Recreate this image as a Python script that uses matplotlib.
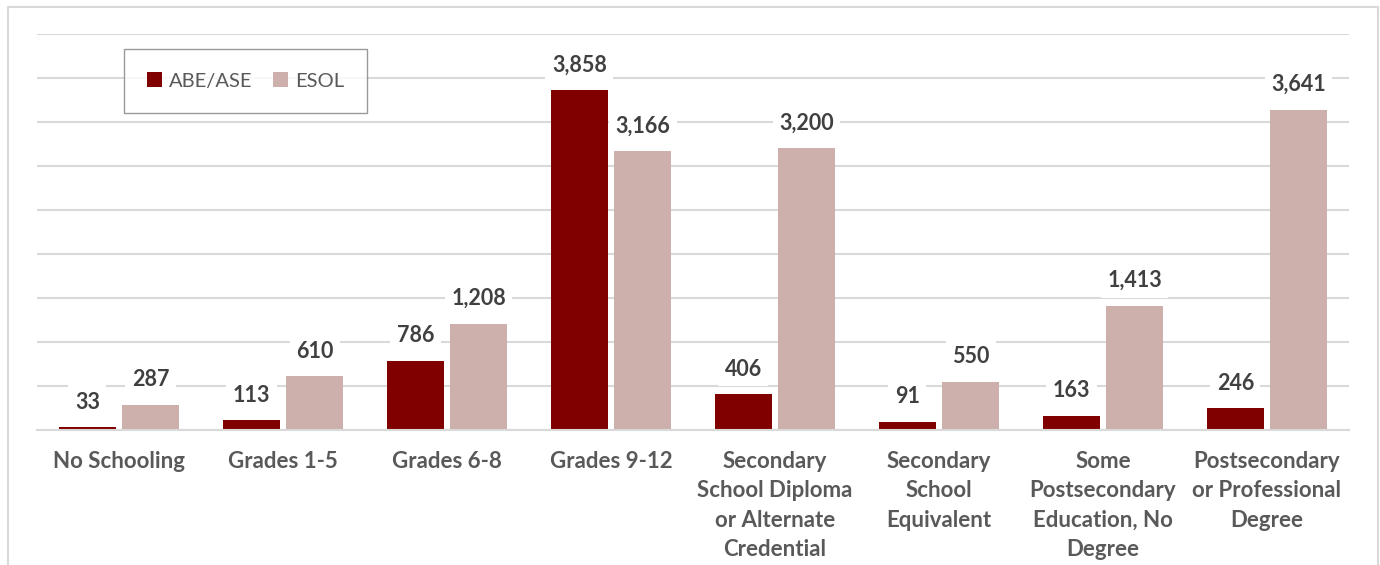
import matplotlib
matplotlib.use("Agg")
import matplotlib.pyplot as plt
import numpy as np
from matplotlib.patches import Rectangle

categories = [
    "No Schooling",
    "Grades 1-5",
    "Grades 6-8",
    "Grades 9-12",
    "Secondary\nSchool Diploma\nor Alternate\nCredential",
    "Secondary\nSchool\nEquivalent",
    "Some\nPostsecondary\nEducation, No\nDegree",
    "Postsecondary\nor Professional\nDegree",
]
abe_ase = [33, 113, 786, 3858, 406, 91, 163, 246]
esol = [287, 610, 1208, 3166, 3200, 550, 1413, 3641]

DARK_RED = "#800000"
PINK = "#CDAFAB"
GRID = "#D9D9D9"
TEXT = "#595959"

plt.rcParams["font.family"] = ["Lato", "DejaVu Sans"]

fig = plt.figure(figsize=(13.8, 5.65), dpi=100)
ax = fig.add_axes([37 / 1380, 135 / 565, 1312 / 1380, 396 / 565])

x = np.arange(len(categories))
w = 0.35
off = 0.193
b1 = ax.bar(x - off, abe_ase, w, color=DARK_RED, label="ABE/ASE", zorder=2)
b2 = ax.bar(x + off, esol, w, color=PINK, label="ESOL", zorder=2)

for bars, vals in ((b1, abe_ase), (b2, esol)):
    for bar, v in zip(bars, vals):
        ax.annotate(f"{v:,}", (bar.get_x() + bar.get_width() / 2, v),
                    xytext=(0, 18), textcoords="offset points",
                    ha="center", va="center", fontsize=15.5, fontweight="bold",
                    color="#404040", zorder=4,
                    bbox=dict(boxstyle="square,pad=0.3", fc="white", ec="none"))

ax.set_xlim(-0.5, len(categories) - 0.5)
ax.set_ylim(0, 4500)
ax.set_yticks(np.arange(0, 4501, 500))
ax.yaxis.grid(True, color=GRID, lw=1.5, zorder=0)
ax.set_axisbelow(True)
ax.tick_params(axis="y", left=False, labelleft=False)
ax.tick_params(axis="x", length=0, pad=15)
ax.set_xticks(x)
ax.set_xticklabels(categories, fontsize=16, fontweight="bold", color=TEXT,
                   linespacing=1.5, va="top")
for s in ("top", "right", "left"):
    ax.spines[s].set_visible(False)
ax.spines["bottom"].set_color(GRID)
ax.spines["bottom"].set_linewidth(1.5)

leg = ax.legend(loc="upper left", bbox_to_anchor=(87 / 1312, 1 - 15 / 396),
                ncol=2, frameon=True, fancybox=False, fontsize=14.5,
                handlelength=0.75, handleheight=0.75, handletextpad=0.35,
                columnspacing=1.0, borderpad=1.15, borderaxespad=0)
leg.get_frame().set_edgecolor("#808080")
leg.get_frame().set_linewidth(1.0)
for t in leg.get_texts():
    t.set_color(TEXT)

# outer chart border
fig.patches.append(Rectangle((8 / 1380, -0.1), 1370 / 1380, 1.1 - 7 / 565,
                             transform=fig.transFigure, fill=False,
                             ec=GRID, lw=1.5))

fig.savefig("out.png", dpi=100, facecolor="white")
